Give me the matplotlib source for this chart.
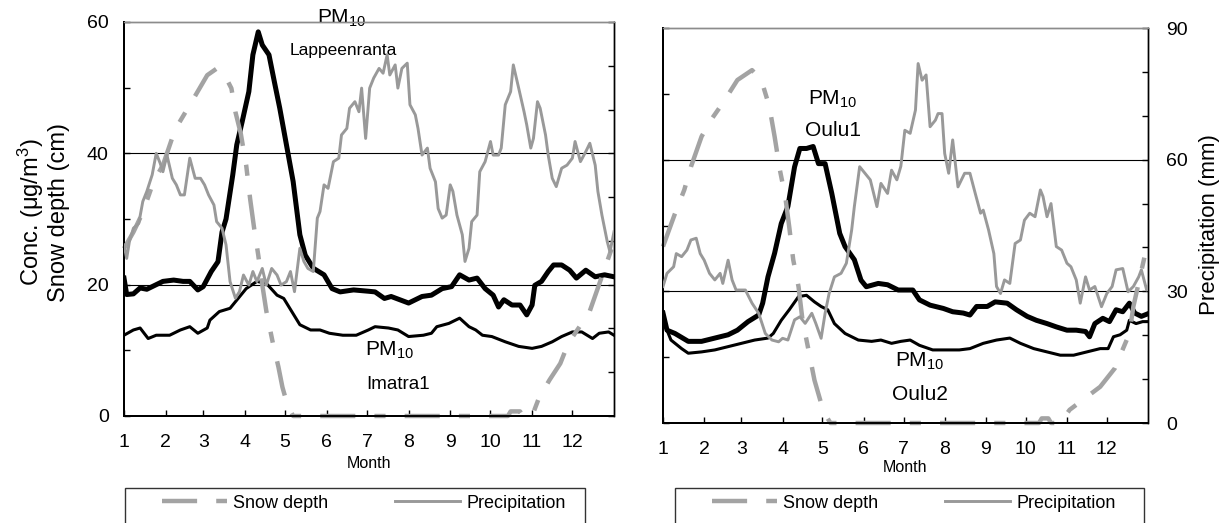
import matplotlib
matplotlib.use("Agg")
import matplotlib.pyplot as plt
from matplotlib.patches import Rectangle
from matplotlib.ticker import FixedLocator, MultipleLocator

plt.rcParams['font.family'] = ['Liberation Sans', 'DejaVu Sans']
plt.rcParams['mathtext.fontset'] = 'custom'
plt.rcParams['mathtext.rm'] = 'Liberation Sans'
plt.rcParams['mathtext.it'] = 'Liberation Sans:italic'
plt.rcParams['mathtext.default'] = 'regular'

# ---------------------------------------------------------------- data
MONTH_START = [1, 32, 60, 91, 121, 152, 182, 213, 244, 274, 305, 335]
MONTH_LABELS = [str(m) for m in range(1, 13)]

# Lappeenranta / Imatra (left panel)
lpr_pm_day = [1, 3, 8, 13, 18, 23, 30, 38, 45, 50, 56, 60, 66, 71, 74, 77, 82, 85, 89, 94,
              97, 101, 104, 109, 113, 117, 122, 127, 132, 136, 142, 150, 156, 162, 172, 183,
              188, 195, 200, 213, 223, 230, 238, 245, 251, 258, 264, 270, 276, 280, 284, 290,
              296, 301, 305, 307, 312, 317, 321, 327, 333, 338, 345, 352, 359, 366]
lpr_pm = [21.0, 18.5, 18.6, 19.5, 19.3, 19.8, 20.5, 20.7, 20.5, 20.5, 19.2, 19.7, 22.0, 23.5,
          28.0, 30.0, 36.7, 41.3, 44.8, 49.4, 55.0, 58.5, 56.5, 55.0, 50.9, 46.9, 41.3, 35.7,
          27.6, 24.5, 22.5, 21.5, 19.4, 18.9, 19.2, 19.0, 18.9, 17.9, 18.2, 17.2, 18.2, 18.4,
          19.4, 19.7, 21.5, 20.7, 21.0, 19.4, 18.4, 16.6, 17.7, 16.9, 16.9, 15.4, 16.9, 19.9,
          20.5, 22.0, 23.0, 23.0, 22.2, 21.0, 22.2, 21.2, 21.5, 21.2]

ima_pm_day = [1, 8, 13, 19, 25, 35, 43, 50, 56, 63, 65, 72, 80, 86, 92, 100, 107, 115, 120,
              126, 132, 140, 147, 154, 164, 174, 183, 188, 198, 205, 213, 224, 230, 234, 243,
              251, 258, 263, 268, 275, 285, 295, 305, 312, 320, 327, 335, 342, 350, 355, 362, 366]
ima_pm = [12.3, 13.1, 13.4, 11.8, 12.3, 12.3, 13.1, 13.6, 12.6, 13.4, 14.6, 15.9, 16.4, 17.9,
          19.4, 20.5, 20.2, 18.4, 17.9, 15.9, 13.9, 13.1, 13.1, 12.6, 12.3, 12.3, 13.1, 13.6,
          13.4, 13.1, 12.1, 12.3, 12.6, 13.6, 14.1, 14.9, 13.6, 13.1, 12.3, 12.1, 11.3, 10.6,
          10.3, 10.6, 11.3, 12.1, 12.8, 12.8, 11.8, 12.6, 12.8, 12.3]

lpr_snow_day = [1, 8, 15, 23, 30, 39, 53, 63, 70, 76, 81, 84, 88, 92, 95, 98, 101, 104, 107,
                112, 116, 119, 123, 127, 200, 287, 289, 296, 298, 305, 310, 318, 326, 332, 340,
                348, 354, 360, 366]
lpr_snow = [25.5, 28.0, 31.0, 35.7, 38.2, 43.6, 48.4, 51.9, 52.9, 51.9, 49.9, 46.3, 43.0, 38.2,
            33.0, 28.5, 24.5, 20.0, 16.0, 11.0, 7.5, 4.4, 1.5, 0, 0, 0, 0.7, 0.7, 0, 0, 2.7,
            5.5, 8.0, 11.1, 13.5, 16.0, 19.5, 23.0, 26.5]

lpr_rain_day = [1, 3, 5, 8, 12, 15, 18, 22, 25, 28, 30, 33, 37, 40, 43, 46, 50, 54, 58, 61,
                64, 68, 70, 74, 77, 80, 84, 87, 90, 94, 97, 100, 104, 107, 111, 115, 118, 122,
                125, 128, 132, 135, 138, 142, 145, 147, 150, 153, 157, 161, 163, 167, 169, 173,
                176, 178, 181, 184, 187, 191, 194, 197, 199, 203, 205, 208, 212, 214, 218, 220,
                223, 227, 229, 233, 235, 238, 241, 244, 246, 249, 253, 255, 258, 260, 264, 266,
                270, 274, 276, 280, 282, 285, 289, 291, 295, 299, 301, 304, 306, 309, 311, 315,
                317, 320, 323, 327, 331, 335, 337, 341, 345, 348, 352, 354, 357, 361, 363, 366]
lpr_rain = [39.1, 36.0, 39.8, 42.9, 44.0, 49.0, 51.3, 55.1, 60.0, 57.7, 55.8, 59.6, 54.3, 52.8,
            50.5, 50.5, 58.9, 54.3, 54.3, 52.8, 50.5, 48.2, 44.4, 42.9, 39.1, 30.7, 26.9, 28.4,
            32.2, 29.9, 33.0, 30.7, 33.7, 29.9, 33.7, 32.2, 29.9, 30.7, 33.0, 28.4, 38.3, 35.3,
            33.7, 33.0, 45.2, 46.7, 52.8, 52.0, 58.1, 58.9, 64.2, 65.7, 70.3, 71.8, 69.5, 74.9,
            63.4, 74.9, 77.2, 79.4, 78.3, 82.5, 77.9, 80.2, 74.9, 79.4, 80.6, 71.1, 68.8, 65.7,
            59.6, 61.2, 56.6, 53.5, 47.4, 45.2, 45.9, 52.8, 51.3, 45.9, 41.4, 35.3, 38.3, 44.4,
            45.9, 55.8, 58.1, 62.7, 59.6, 59.6, 61.2, 71.1, 74.1, 80.2, 74.9, 69.5, 66.5, 61.2,
            63.4, 71.8, 70.3, 64.2, 59.6, 54.3, 52.4, 56.6, 57.3, 58.9, 62.7, 58.1, 60.4, 62.3,
            57.3, 51.3, 45.9, 39.8, 37.5, 42.1]

# Oulu (right panel)
oulu1_pm_day = [1, 4, 10, 20, 30, 40, 50, 57, 65, 73, 76, 80, 85, 90, 95, 100, 104, 109, 114,
                118, 123, 128, 134, 138, 145, 150, 154, 163, 170, 178, 189, 194, 202, 212, 219,
                227, 232, 237, 245, 251, 260, 267, 275, 282, 290, 297, 305, 312, 319, 322, 326,
                332, 337, 342, 347, 352, 356, 361, 366]
oulu1_pm = [16.7, 14.1, 13.6, 12.4, 12.4, 12.9, 13.4, 14.1, 15.4, 16.4, 18.2, 22.2, 25.8, 30.3,
            32.9, 38.9, 41.7, 41.7, 42.0, 39.4, 39.4, 34.9, 28.8, 26.8, 24.8, 21.7, 20.7, 21.2,
            21.0, 20.2, 20.2, 18.7, 17.9, 17.4, 16.9, 16.7, 16.4, 17.7, 17.7, 18.4, 18.2, 17.2,
            16.2, 15.6, 15.1, 14.6, 14.1, 14.1, 13.9, 13.1, 15.1, 15.9, 15.4, 17.2, 16.9, 18.2,
            16.7, 16.2, 16.6]

oulu2_pm_day = [1, 7, 15, 20, 30, 40, 50, 60, 70, 80, 84, 90, 96, 103, 109, 115, 120, 125, 130,
                138, 148, 158, 165, 173, 180, 187, 194, 204, 214, 224, 232, 242, 252, 262, 270,
                280, 290, 300, 310, 320, 330, 336, 340, 345, 350, 352, 357, 362, 366]
oulu2_pm = [15.6, 12.6, 11.3, 10.6, 10.8, 11.1, 11.6, 12.1, 12.6, 12.9, 13.6, 15.6, 17.2, 19.2,
            19.4, 18.4, 17.7, 17.2, 15.1, 13.6, 12.6, 12.4, 12.6, 12.1, 12.4, 12.6, 11.8, 11.1,
            11.1, 11.1, 11.3, 12.1, 12.6, 12.9, 12.1, 11.3, 10.8, 10.3, 10.3, 10.8, 11.3, 11.3,
            13.1, 13.4, 14.1, 15.6, 15.1, 15.4, 15.4]

oulu_snow_day = [1, 10, 17, 22, 30, 37, 46, 57, 68, 75, 81, 85, 89, 93, 96, 99, 103, 106, 110,
                 115, 120, 124, 127, 200, 284, 286, 291, 293, 300, 307, 330, 341, 352, 355, 364, 366]
oulu_snow = [26.8, 31.8, 35.4, 38.9, 43.5, 46.0, 48.6, 52.1, 53.6, 52.1, 48.1, 43.5, 38.4, 34.4,
             29.8, 24.8, 20.7, 15.6, 11.6, 6.5, 3.0, 1.0, 0, 0, 0, 0.7, 0.7, 0, 0, 2.0, 5.5, 8.3,
             13.6, 17.7, 25.8, 27.0]

oulu_rain_day = [1, 4, 9, 11, 15, 19, 22, 26, 29, 32, 36, 40, 44, 46, 50, 53, 56, 63, 68, 73,
                 78, 83, 88, 91, 95, 100, 104, 108, 113, 116, 120, 123, 126, 130, 135, 139, 143,
                 145, 149, 153, 157, 162, 165, 170, 173, 177, 180, 183, 187, 191, 193, 196, 199,
                 202, 206, 208, 211, 213, 216, 219, 223, 228, 232, 236, 240, 242, 246, 250, 252,
                 255, 258, 262, 266, 270, 273, 277, 281, 285, 287, 290, 293, 297, 301, 305, 308,
                 312, 315, 319, 322, 326, 331, 335, 339, 342, 347, 351, 355, 359, 361, 365, 366]
oulu_rain = [31.1, 34.1, 35.6, 38.6, 37.9, 39.4, 41.7, 42.1, 38.6, 37.1, 34.1, 32.6, 34.1, 31.8,
             37.1, 32.6, 30.3, 30.3, 27.3, 25.0, 20.4, 18.9, 18.5, 19.3, 18.9, 23.5, 24.2, 22.7,
             25.0, 22.7, 19.3, 25.0, 29.5, 33.3, 34.1, 36.4, 44.0, 49.3, 58.4, 56.9, 55.4, 49.3,
             54.6, 52.3, 57.6, 55.4, 58.5, 66.7, 66.0, 71.3, 81.9, 78.1, 79.3, 67.5, 69.0, 70.5,
             70.5, 61.4, 56.9, 64.5, 53.8, 56.9, 56.9, 52.3, 47.8, 48.5, 44.0, 38.6, 31.1, 29.5,
             32.6, 31.8, 40.9, 41.7, 46.2, 47.8, 47.0, 53.1, 51.6, 47.0, 50.0, 40.2, 39.4, 36.4,
             35.6, 32.6, 27.3, 33.3, 30.3, 31.1, 26.5, 29.5, 31.1, 34.9, 35.2, 29.9, 31.1, 33.3,
             34.9, 30.3, 31.0]

# ---------------------------------------------------------------- styling
W, H = 1232, 523
GREY = '#999999'
SNOW_GREY = '#a3a3a3'
SNOW_DASH = (0, (7.9, 4.3, 2.5, 4.3))
TICK_FS = 14
LABEL_FS = 17
NOTE_FS = 15


def px_rect(left, top, right, bottom):
    return [left / W, 1 - bottom / H, (right - left) / W, (bottom - top) / H]


def draw_panel(rect, hi_day, hi_val, lo_day, lo_val, snow_day, snow_val,
               rain_day, rain_val, show_left, show_right):
    ax = fig.add_axes(rect)
    ax2 = ax.twinx()

    ax.plot(hi_day, hi_val, color='black', lw=3.6, solid_joinstyle='round', zorder=3)
    ax.plot(lo_day, lo_val, color='black', lw=2.2, solid_joinstyle='round', zorder=3)
    snow_line, = ax.plot(snow_day, snow_val, color=SNOW_GREY, lw=3.2,
                         linestyle=SNOW_DASH, clip_on=False, zorder=4)
    rain_line, = ax2.plot(rain_day, rain_val, color=GREY, lw=2.1,
                          solid_joinstyle='round', zorder=3)

    ax.set_xlim(1, 366)
    ax.set_ylim(0, 60)
    ax2.set_ylim(0, 90)

    ax.xaxis.set_major_locator(FixedLocator(MONTH_START))
    ax.set_xticklabels(MONTH_LABELS)
    ax.yaxis.set_major_locator(MultipleLocator(20))
    ax.yaxis.set_minor_locator(MultipleLocator(10))
    ax2.yaxis.set_major_locator(MultipleLocator(30))
    ax2.yaxis.set_minor_locator(MultipleLocator(10))

    for a in (ax, ax2):
        a.tick_params(which='both', direction='in', length=4.5, width=1, labelsize=TICK_FS)
    ax.tick_params(axis='x', pad=13)
    ax.tick_params(axis='y', pad=11, labelleft=show_left)
    ax2.tick_params(axis='y', pad=13, labelright=show_right)

    ax.set_axisbelow(True)
    for yv in (20, 40):
        ax.axhline(yv, color='black', lw=0.8, zorder=1)

    for a in (ax, ax2):
        a.spines['top'].set_color('#8c8c8c')
        a.spines['top'].set_linewidth(1.0)
        a.spines['left'].set_linewidth(1.4)
        a.spines['bottom'].set_linewidth(1.4)
        a.spines['right'].set_linewidth(1.0)
    ax.patch.set_visible(False)
    return ax, ax2, snow_line, rain_line


fig = plt.figure(figsize=(W / 100, H / 100), dpi=100)

# left panel: Lappeenranta and Imatra
axL, axL2, snowL, rainL = draw_panel(px_rect(124, 22, 614, 416),
                                     lpr_pm_day, lpr_pm, ima_pm_day, ima_pm,
                                     lpr_snow_day, lpr_snow, lpr_rain_day, lpr_rain,
                                     show_left=True, show_right=False)
axL.text(163, 60.5, 'PM$_{10}$', fontsize=NOTE_FS, ha='center', va='center')
axL.text(164, 55.7, 'Lappeenranta', fontsize=12.5, ha='center', va='center')
axL.text(199, 10.0, 'PM$_{10}$', fontsize=NOTE_FS, ha='center', va='center')
axL.text(205, 4.8, 'Imatra1', fontsize=13.5, ha='center', va='center')

# right panel: Oulu
axR, axR2, snowR, rainR = draw_panel(px_rect(663, 28, 1148, 423),
                                     oulu1_pm_day, oulu1_pm, oulu2_pm_day, oulu2_pm,
                                     oulu_snow_day, oulu_snow, oulu_rain_day, oulu_rain,
                                     show_left=False, show_right=True)
axR.text(129, 49.2, 'PM$_{10}$', fontsize=NOTE_FS, ha='center', va='center')
axR.text(129, 44.5, 'Oulu1', fontsize=NOTE_FS, ha='center', va='center')
axR.text(194, 9.3, 'PM$_{10}$', fontsize=NOTE_FS, ha='center', va='center')
axR.text(194, 4.3, 'Oulu2', fontsize=NOTE_FS, ha='center', va='center')

# axis titles
fig.text(43 / W, 1 - 212 / H, 'Conc. (\u03bcg/m$^3$)\nSnow depth (cm)', rotation=90,
         fontsize=LABEL_FS, ha='center', va='center', multialignment='center',
         linespacing=1.1)
fig.text(1209 / W, 1 - 225 / H, 'Precipitation (mm)', rotation=90,
         fontsize=LABEL_FS - 1, ha='center', va='center')
fig.text(369 / W, 1 - 463 / H, 'Month', fontsize=11.5, ha='center', va='center')
fig.text(905 / W, 1 - 467 / H, 'Month', fontsize=11.5, ha='center', va='center')

# legend boxes under each panel
for (bx0, bx1, hx, snow_line, rain_line) in [(125, 585, 162, snowL, rainL),
                                              (675, 1144, 712, snowR, rainR)]:
    fig.add_artist(Rectangle((bx0 / W, -0.2), (bx1 - bx0) / W, 0.2 + 1 - 488 / H,
                             transform=fig.transFigure, fill=False,
                             edgecolor='#333333', lw=1.0))
    fig.legend([snow_line, rain_line], ['Snow depth', 'Precipitation'],
               loc='center left', bbox_to_anchor=(hx / W, 1 - 503 / H),
               bbox_transform=fig.transFigure, ncol=2, frameon=False,
               borderpad=0, borderaxespad=0, handlelength=3.6, handletextpad=0.35,
               columnspacing=3.7, fontsize=13)

fig.savefig('out.png', dpi=100)
